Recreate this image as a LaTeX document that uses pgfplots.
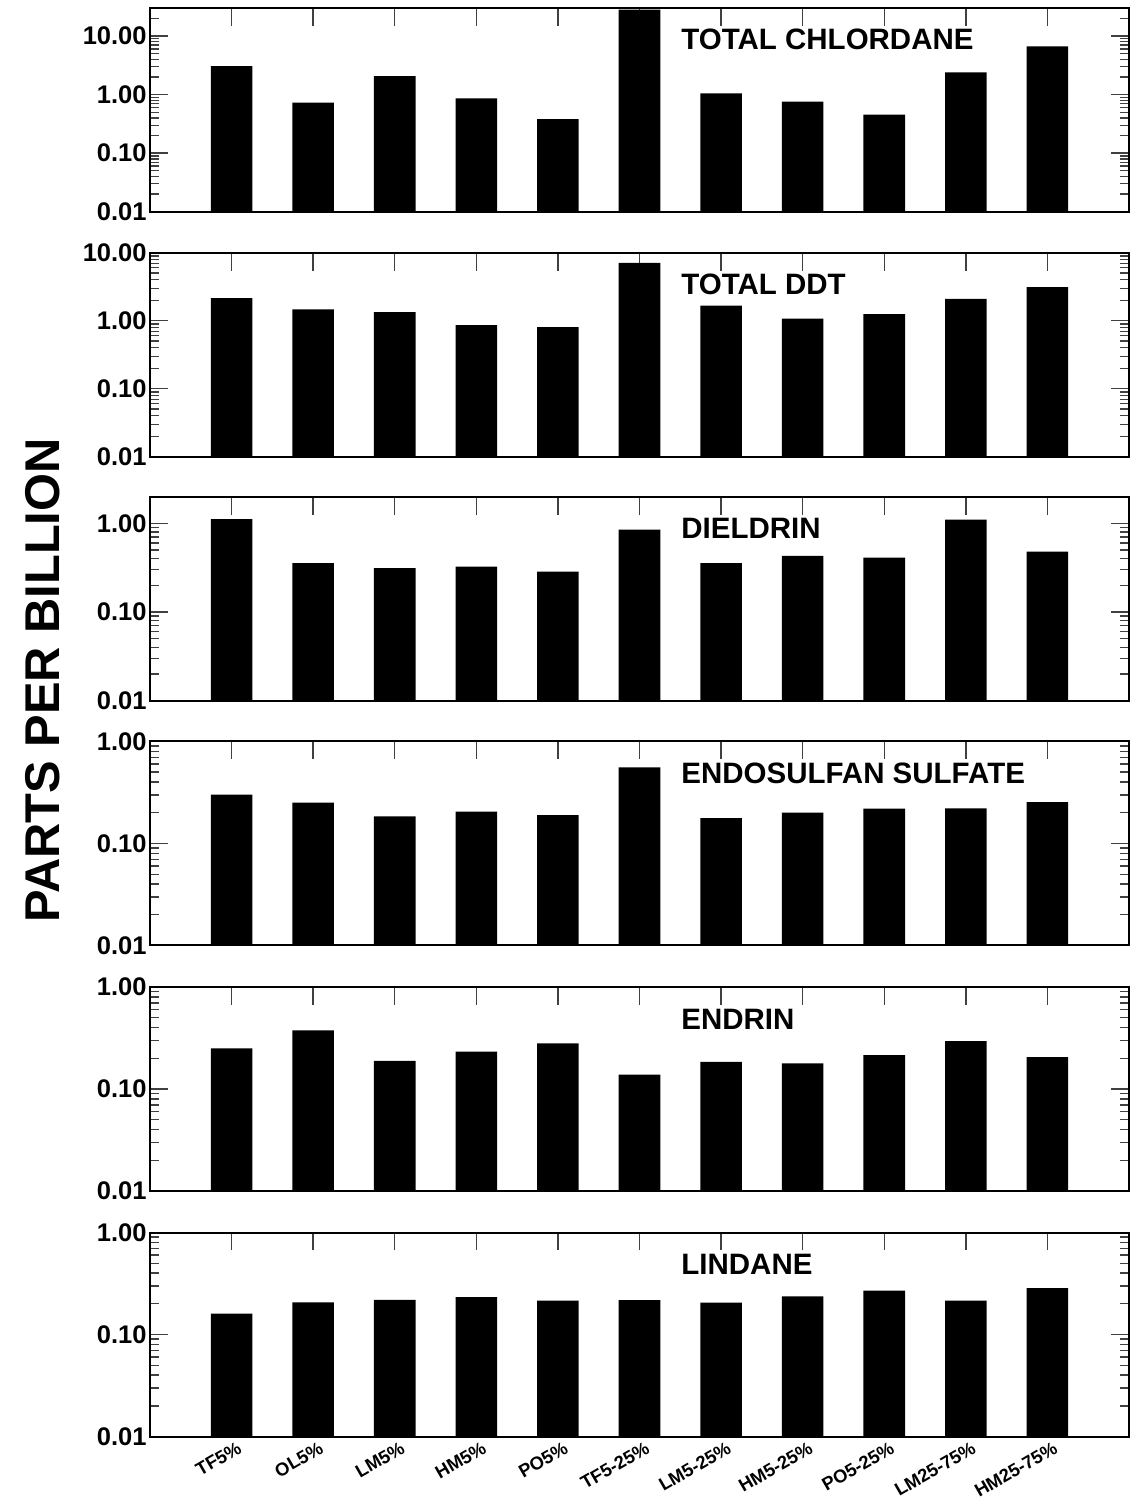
\documentclass[border=0pt]{standalone}
\usepackage{fontspec}
\setmainfont{Liberation Sans}
\usepackage{pgfplots}
\pgfplotsset{compat=1.18}
\pgfplotsset{
  pnlstyle/.style={
    width=489.5bp, height=102bp, scale only axis,
    log origin=infty,
    xmin=-1, xmax=11, ymin=0.01,
    ybar, bar width=0.51,
    xtick={0,...,10}, xticklabels={},
    minor ytick={0.02,0.03,0.04,0.05,0.06,0.07,0.08,0.09,0.2,0.3,0.4,0.5,0.6,0.7,0.8,0.9,2,3,4,5,6,7,8,9,20,30},
    major tick length=9bp, minor tick length=4.5bp,
    axis line style={line width=1bp},
    every tick/.style={black!75, line width=0.7bp},
    yticklabel style={font=\bfseries\fontsize{12.8}{13}\selectfont, inner sep=1.5bp},
    tick align=inside, xtick align=inside, ytick align=inside,
  },
  bigyticks/.style={ytick={0.01,0.1,1,10}, yticklabels={0.01,0.10,1.00,10.00}},
  smallyticks/.style={ytick={0.01,0.1,1}, yticklabels={0.01,0.10,1.00}},
}
\tikzset{ttl/.style={anchor=base west, inner sep=0pt, font=\bfseries\fontsize{14.8}{15}\selectfont}}
\begin{document}
\begin{tikzpicture}
\path[use as bounding box] (-75bp,-35.75bp) rectangle (491.5bp,718.25bp);

% Panel 1
\begin{semilogyaxis}[pnlstyle, bigyticks, at={(0,612.4bp)}, ymax=30.5]
\addplot[fill=black, draw=none] coordinates {(0,3.07) (1,0.73) (2,2.07) (3,0.865) (4,0.38) (5,28.2) (6,1.05) (7,0.76) (8,0.456) (9,2.40) (10,6.65)};
\node[ttl] at (rel axis cs:0.5424,0.794) {TOTAL CHLORDANE};
\end{semilogyaxis}

% Panel 2
\begin{semilogyaxis}[pnlstyle, bigyticks, at={(0,489.9bp)}, ymax=10]
\addplot[fill=black, draw=none] coordinates {(0,2.15) (1,1.47) (2,1.34) (3,0.864) (4,0.807) (5,7.08) (6,1.66) (7,1.07) (8,1.25) (9,2.10) (10,3.11)};
\node[ttl] at (rel axis cs:0.5424,0.794) {TOTAL DDT};
\end{semilogyaxis}

% Panel 3
\begin{semilogyaxis}[pnlstyle, smallyticks, at={(0,367.9bp)}, ymax=2]
\addplot[fill=black, draw=none] coordinates {(0,1.12) (1,0.357) (2,0.313) (3,0.325) (4,0.285) (5,0.85) (6,0.357) (7,0.43) (8,0.41) (9,1.1) (10,0.48)};
\node[ttl] at (rel axis cs:0.5424,0.794) {DIELDRIN};
\end{semilogyaxis}

% Panel 4
\begin{semilogyaxis}[pnlstyle, smallyticks, at={(0,245.5bp)}, ymax=1]
\addplot[fill=black, draw=none] coordinates {(0,0.302) (1,0.252) (2,0.184) (3,0.205) (4,0.190) (5,0.556) (6,0.177) (7,0.201) (8,0.220) (9,0.221) (10,0.254)};
\node[ttl] at (rel axis cs:0.5424,0.794) {ENDOSULFAN SULFATE};
\end{semilogyaxis}

% Panel 5
\begin{semilogyaxis}[pnlstyle, smallyticks, at={(0,122.75bp)}, ymax=1]
\addplot[fill=black, draw=none] coordinates {(0,0.250) (1,0.375) (2,0.189) (3,0.232) (4,0.280) (5,0.138) (6,0.184) (7,0.178) (8,0.215) (9,0.295) (10,0.205)};
\node[ttl] at (rel axis cs:0.5424,0.794) {ENDRIN};
\end{semilogyaxis}

% Panel 6
\begin{semilogyaxis}[pnlstyle, smallyticks, at={(0,0bp)}, ymax=1,
  xticklabels={TF5\%,OL5\%,LM5\%,HM5\%,PO5\%,TF5-25\%,LM5-25\%,HM5-25\%,PO5-25\%,LM25-75\%,HM25-75\%},
  xticklabel style={font=\bfseries\fontsize{9.2}{9.5}\selectfont, yshift=-2bp, xshift=2.5bp, rotate=30, anchor=north east, inner sep=0pt}]
\addplot[fill=black, draw=none] coordinates {(0,0.160) (1,0.207) (2,0.219) (3,0.233) (4,0.215) (5,0.217) (6,0.205) (7,0.237) (8,0.27) (9,0.215) (10,0.285)};
\node[ttl] at (rel axis cs:0.5424,0.794) {LINDANE};
\end{semilogyaxis}

\node[rotate=90, font=\bfseries\fontsize{24.5}{25}\selectfont, inner sep=0pt] at (-53.5bp,378bp) {PARTS PER BILLION};
\end{tikzpicture}
\end{document}
